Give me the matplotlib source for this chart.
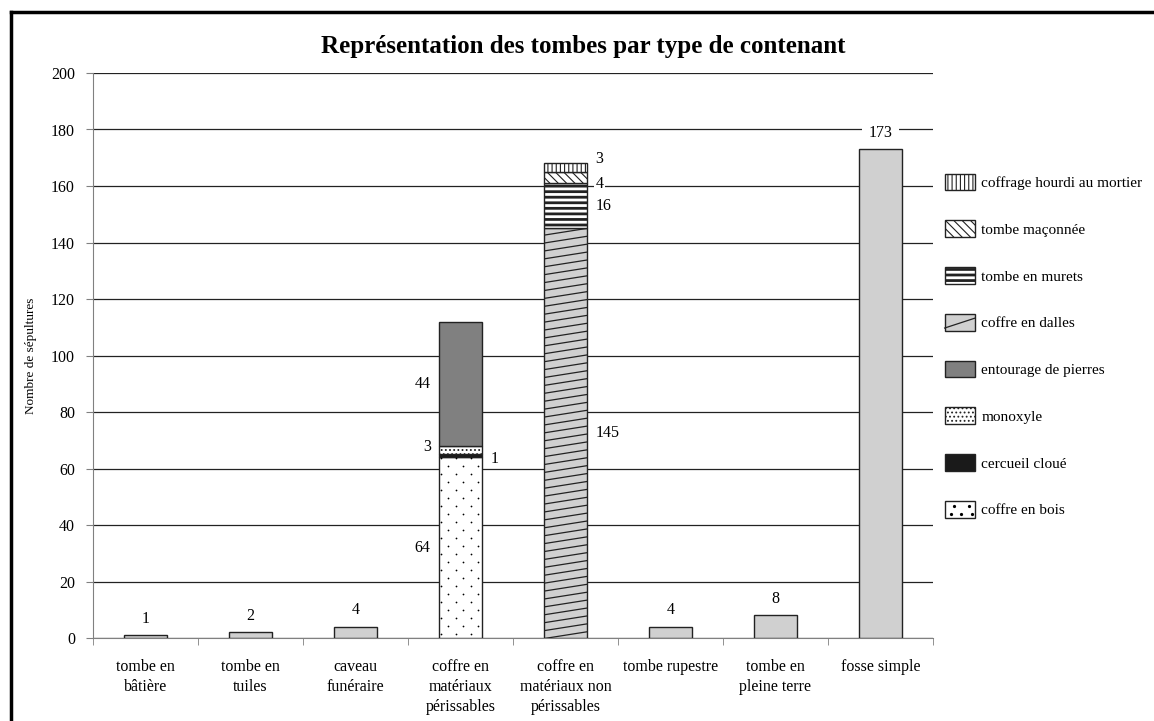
import numpy as np
import matplotlib
matplotlib.use('Agg')
import matplotlib.pyplot as plt
from matplotlib.patches import Patch, Rectangle
from matplotlib.lines import Line2D
from matplotlib.legend_handler import HandlerPatch

plt.rcParams['font.family'] = ['Liberation Serif', 'DejaVu Serif']
plt.rcParams['hatch.linewidth'] = 0.8

categories = ['tombe en\nbâtière', 'tombe en\ntuiles', 'caveau\nfunéraire',
              'coffre en\nmatériaux\npérissables', 'coffre en\nmatériaux non\npérissables',
              'tombe rupestre', 'tombe en\npleine terre', 'fosse simple']
simple_idx = [0, 1, 2, 5, 6, 7]
simple_vals = [1, 2, 4, 4, 8, 173]

# coffre en matériaux périssables (bottom -> top)
perish_labels = ['coffre en bois', 'cercueil cloué', 'monoxyle', 'entourage de pierres']
perish_vals = [64, 1, 3, 44]
# coffre en matériaux non périssables (bottom -> top)
nonperish_labels = ['coffre en dalles', 'tombe en murets', 'tombe maçonnée', 'coffrage hourdi au mortier']
nonperish_vals = [145, 16, 4, 3]

legend_order = ['coffrage hourdi au mortier', 'tombe maçonnée', 'tombe en murets', 'coffre en dalles',
                'entourage de pierres', 'monoxyle', 'cercueil cloué', 'coffre en bois']

styles = {
    'coffre en bois': dict(facecolor='white', hatch=None),
    'cercueil cloué': dict(facecolor='#1a1a1a', hatch=None),
    'monoxyle': dict(facecolor='white', hatch='....'),
    'entourage de pierres': dict(facecolor='#808080', hatch=None),
    'coffre en dalles': dict(facecolor='#d0d0d0', hatch=None),
    'tombe en murets': dict(facecolor='white', hatch='---'),
    'tombe maçonnée': dict(facecolor='white', hatch='\\\\\\\\'),
    'coffrage hourdi au mortier': dict(facecolor='white', hatch='||||'),
}
edge = '#222222'
gray = '#d0d0d0'
width = 0.41
fs = 11.5

fig = plt.figure(figsize=(11.54, 7.21), dpi=100)
ax = fig.add_axes([93 / 1154, 1 - 638 / 721, 840 / 1154, 565 / 721])

# plain bars
bars = ax.bar(simple_idx, simple_vals, width=width, color=gray, edgecolor=edge, lw=1, zorder=3)
for b, v in zip(bars, simple_vals):
    ax.annotate(str(v), (b.get_x() + b.get_width() / 2, v), xytext=(0, 6), textcoords='offset points',
                ha='center', va='bottom', fontsize=fs, zorder=5,
                bbox=dict(facecolor='white', edgecolor='none', pad=5))


def stack(x, names, vals):
    bottom = 0
    patches = {}
    for name, v in zip(names, vals):
        st = styles[name]
        lw_h = 2.0 if name == 'tombe en murets' else 0.8
        with plt.rc_context({'hatch.linewidth': lw_h}):
            b = ax.bar(x, v, width=width, bottom=bottom, color=st['facecolor'], edgecolor=edge,
                       hatch=st['hatch'], lw=1, zorder=3)[0]
        patches[name] = (b, bottom, v)
        bottom += v
    return patches


p1 = stack(3, perish_labels, perish_vals)
p2 = stack(4, nonperish_labels, nonperish_vals)

# slanted lines of the slab coffins
bar_d, b0, h = p2['coffre en dalles']
x0, x1 = bar_d.get_x(), bar_d.get_x() + bar_d.get_width()
for y in np.arange(-3, h + 3, 2.8):
    ln = Line2D([x0, x1], [y, y + 2.4], color=edge, lw=0.9, zorder=4)
    ax.add_line(ln)
    ln.set_clip_path(bar_d)

# sparse dots of the wooden coffins
bar_b, b0, h = p1['coffre en bois']
bx0 = bar_b.get_x()
pts = []
for i, y in enumerate(np.arange(1.4, h, 2.83)):
    off = 0.02 if i % 2 == 0 else 0.09
    for x in np.arange(bx0 + off, bx0 + width, 0.143):
        pts.append((x, y))
pts = np.array(pts)
sc = ax.scatter(pts[:, 0], pts[:, 1], s=1.6, color='black', zorder=4, linewidths=0)
sc.set_clip_path(bar_b)


# value labels of the stacks
def seg_label(patches, name, side, dy=0):
    b, bot, v = patches[name]
    y = bot + v / 2
    if side == 'left':
        ax.annotate(str(v), (b.get_x(), y), xytext=(-6, dy), textcoords='offset points',
                    ha='right', va='center', fontsize=fs, zorder=5)
    else:
        ax.annotate(str(v), (b.get_x() + b.get_width(), y), xytext=(6, dy), textcoords='offset points',
                    ha='left', va='center', fontsize=fs, zorder=5,
                    bbox=dict(facecolor='white', edgecolor='none', pad=1))


seg_label(p1, 'coffre en bois', 'left')
seg_label(p1, 'cercueil cloué', 'right', dy=-2)
seg_label(p1, 'monoxyle', 'left', dy=2)
seg_label(p1, 'entourage de pierres', 'left')
seg_label(p2, 'coffre en dalles', 'right')
seg_label(p2, 'tombe en murets', 'right')
seg_label(p2, 'tombe maçonnée', 'right', dy=-5)
seg_label(p2, 'coffrage hourdi au mortier', 'right', dy=6)

# axes
ax.set_xlim(-0.5, 7.5)
ax.set_ylim(0, 200)
ax.set_yticks(np.arange(0, 201, 20))
ax.yaxis.grid(True, color='#222222', lw=0.9, zorder=0)
ax.set_axisbelow(True)
ax.set_xticks(range(len(categories)))
ax.set_xticklabels(categories, fontsize=fs, linespacing=1.35)
ax.set_xticks(np.arange(-0.5, 8, 1), minor=True)
ax.tick_params(axis='x', which='major', length=0, pad=15)
ax.tick_params(axis='x', which='minor', length=5, color='#808080', direction='out')
ax.tick_params(axis='y', length=5, color='#808080', labelsize=fs, pad=8)
for s in ['top', 'right']:
    ax.spines[s].set_visible(False)
for s in ['left', 'bottom']:
    ax.spines[s].set_color('#808080')
ax.set_ylabel('Nombre de sépultures', fontsize=9.5, labelpad=10)

fig.text(0.505, 0.935, 'Représentation des tombes par type de contenant',
         ha='center', va='center', fontsize=18, fontweight='bold')


class DecoHandler(HandlerPatch):
    """Legend box with extra decoration drawn inside it."""

    def __init__(self, kind):
        super().__init__()
        self.kind = kind

    def create_artists(self, legend, orig_handle, xdescent, ydescent, width, height, fontsize, trans):
        x0, y0 = -xdescent, -ydescent
        hlw = 2.0 if self.kind == 'murets' else 0.8
        with plt.rc_context({'hatch.linewidth': hlw}):
            r = Rectangle((x0, y0), width, height, facecolor=orig_handle.get_facecolor(),
                          edgecolor=edge, hatch=orig_handle.get_hatch(), lw=1, transform=trans)
        arts = [r]
        if self.kind == 'dalles':
            arts.append(Line2D([x0, x0 + width], [y0 + height * 0.15, y0 + height * 0.75],
                               color=edge, lw=0.9, transform=trans))
        elif self.kind == 'bois':
            for fx, fy in [(0.2, 0.2), (0.55, 0.2), (0.9, 0.2), (0.3, 0.7), (0.8, 0.7)]:
                arts.append(Line2D([x0 + width * fx], [y0 + height * fy], marker='o', ms=1.3,
                                   color='black', lw=0, transform=trans))
        return arts


handles = []
hmap = {}
kinds = {'coffre en dalles': 'dalles', 'coffre en bois': 'bois', 'tombe en murets': 'murets'}
for name in legend_order:
    st = styles[name]
    ph = Patch(facecolor=st['facecolor'], edgecolor=edge, hatch=st['hatch'], lw=1)
    handles.append(ph)
    if name in kinds:
        hmap[ph] = DecoHandler(kinds[name])
fig.legend(handles, legend_order, loc='upper left', bbox_to_anchor=(937 / 1154, 1 - 166 / 721),
           frameon=False, fontsize=11, handlelength=2.0, handleheight=1.3, labelspacing=1.97,
           handletextpad=0.4, borderpad=0, handler_map=hmap)

# frame around the figure
fig.add_artist(Line2D([11 / 1154, 11 / 1154], [0, 1 - 12 / 721], color='black', lw=2.5, transform=fig.transFigure))
fig.add_artist(Line2D([11 / 1154, 1], [1 - 12 / 721, 1 - 12 / 721], color='black', lw=2.5, transform=fig.transFigure))

fig.savefig('out.png', dpi=100)
